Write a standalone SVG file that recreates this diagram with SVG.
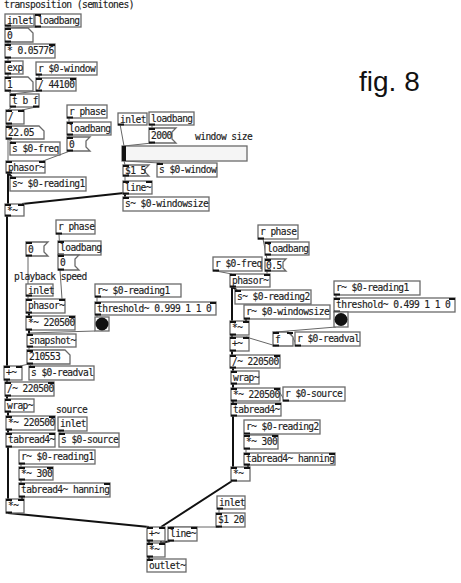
<svg xmlns="http://www.w3.org/2000/svg" width="461" height="583" viewBox="0 0 461 583">
<style>
.b{fill:#fff;stroke:#6a6a6a;stroke-width:1.3}
.t{font:9.6px "DejaVu Sans Mono",monospace;letter-spacing:-.58px;fill:#222;stroke:#222;stroke-width:.15}
.n{fill:none;stroke:#111;stroke-width:2}
.c{fill:none;stroke:#666;stroke-width:1}
.s{fill:none;stroke:#111;stroke-width:2}
</style>
<rect width="461" height="583" fill="#fff"/>
<g id="connectors">
<path class="c" d="M8 26V28M37 27L8 28M8 42V44M8 58V61M8 74V77M39 75V78M8 91L12 94M38 91L12 94M12 107L8 110M36 107L22 110M8 124V126M8 139V161M8 139L12 142M69 118V122M69 135V137M70 151L43 161"/>
<path class="c" d="M120 124L124 146M152 125V128M152 143L124 146M124 161L125 165M125 176V181M124 161L160 163"/>
<path class="c" d="M28 256V299M59 234L60 255M60 270L62 299M97 297V302M97 315V317M95 331L28 333M29 347V350M29 364L20 366M29 364L31 366M60 431V433M21 464V467M21 480V483"/>
<path class="c" d="M263 239L267 259M216 271L232 274M267 271V274M336 327L276 332M276 346L246 337M297 346L290 332M336 295V298M336 312V314M285 401L277 388M246 434V435M246 449V453M219 509V513M219 527H170"/>
<path class="s" d="M8 173L12 177M8 173V204M125 194V197M124 193L22 204M7 216V366M29 313V316M29 330V334M7 380V382M7 396V399M8 412V416M8 430V433M8 447V499M22 497V499M8 513L149 527"/>
<path class="s" d="M232 287L237 290M232 287V321M246 319V321M232 335V337M232 351V355M233 368V371M233 384V388M233 401V403M233 416V467M248 465V467M232 481L161 527M149 541V543M161 541V543M170 541L161 543M149 557V559"/>
</g>
<text id="label-transposition" class="t" x="4" y="8">transposition (semitones)</text>
<text id="label-window-size" class="t" x="195" y="140">window size</text>
<text id="label-playback-speed" class="t" x="14" y="280">playback speed</text>
<text id="label-source" class="t" x="56" y="413">source</text>
<text id="label-fig" x="359" y="91" style="font:28px 'Liberation Sans',Arial,sans-serif;fill:#111">fig. 8</text>

<g id="n1"><rect class="b" x="5" y="14" width="29" height="12"/><text class="t" x="7" y="24">inlet</text><path class="n" d="M5 25.500h6"/></g>
<g id="n2"><rect class="b" x="35" y="14" width="46" height="13"/><text class="t" x="38" y="24">loadbang</text><path class="n" d="M35 15h6M35 26.500h6"/></g>
<g id="n3"><path class="b" d="M5 28H28L33 33V42H5Z"/><text class="t" x="7" y="39">0</text><path class="n" d="M5 29h6M5 41.500h6"/></g>
<g id="n4"><rect class="b" x="5" y="44" width="50" height="14"/><text class="t" x="7" y="54">* 0.05776</text><path class="n" d="M5 45h6M49 45h6M5 57.500h6"/></g>
<g id="n5"><rect class="b" x="5" y="61" width="18" height="13"/><text class="t" x="7" y="71">exp</text><path class="n" d="M5 62h6M5 73.500h6"/></g>
<g id="n6"><rect class="b" x="36" y="62" width="61" height="13"/><text class="t" x="38" y="72">r $0-window</text><path class="n" d="M36 74.500h6"/></g>
<g id="n7"><path class="b" d="M5 77H28L33 82V91H5Z"/><text class="t" x="7" y="88">1</text><path class="n" d="M5 78h6M5 90.500h6"/></g>
<g id="n8"><rect class="b" x="36" y="78" width="40" height="13"/><text class="t" x="38" y="88">/ 44100</text><path class="n" d="M36 79h6M70 79h6M36 90.500h6"/></g>
<g id="n9"><rect class="b" x="10" y="94" width="29" height="13"/><text class="t" x="12" y="104">t b f</text><path class="n" d="M10 95h6M10 106.500h6M33 106.500h6"/></g>
<g id="n10"><rect class="b" x="6" y="110" width="18" height="14"/><text class="t" x="8" y="120">/</text><path class="n" d="M6 111h6M18 111h6M6 123.500h6"/></g>
<g id="n11"><path class="b" d="M6 126H39L44 131V139H6Z"/><text class="t" x="8" y="136">22.05</text><path class="n" d="M6 127h6M6 138.500h6"/></g>
<g id="n12"><rect class="b" x="10" y="142" width="50" height="13"/><text class="t" x="12" y="152">s $0-freq</text><path class="n" d="M10 143h6"/></g>
<g id="n13"><rect class="b" x="67" y="105" width="40" height="13"/><text class="t" x="69" y="115">r phase</text><path class="n" d="M67 117.500h6"/></g>
<g id="n14"><rect class="b" x="67" y="122" width="44" height="13"/><text class="t" x="69" y="132">loadbang</text><path class="n" d="M67 123h6M67 134.500h6"/></g>
<g id="n15"><path class="b" d="M67 137H90L86 141V147L90 151H67Z"/><text class="t" x="69" y="148">0</text><path class="n" d="M67 138h6M67 150.500h6"/></g>
<g id="n16"><rect class="b" x="6" y="161" width="39" height="12"/><text class="t" x="8" y="171">phasor~</text><path class="n" d="M6 162h6M39 162h6M6 172.500h6"/></g>
<g id="n17"><rect class="b" x="10" y="177" width="76" height="14"/><text class="t" x="12" y="187">s~ $0-reading1</text><path class="n" d="M10 178h6"/></g>
<g id="n18"><rect class="b" x="118" y="113" width="29" height="12"/><text class="t" x="120" y="123">inlet</text><path class="n" d="M118 124.500h6"/></g>
<g id="n19"><rect class="b" x="149" y="112" width="45" height="13"/><text class="t" x="151" y="122">loadbang</text><path class="n" d="M149 124.500h6"/></g>
<g id="n20"><path class="b" d="M149 128H176L172 132V139L176 143H149Z"/><text class="t" x="151" y="139">2000</text><path class="n" d="M149 129h6M149 142.500h6"/></g>
<g id="n21"><rect class="b" x="122" y="146" width="125" height="15" style="fill:#f5f5f5"/><rect x="122" y="146" width="4" height="15" fill="#111"/></g>
<g id="n22"><path class="b" d="M123 165H149L145 169V172L149 176H123Z"/><text class="t" x="125" y="174">$1 5</text><path class="n" d="M123 166h6M123 175.500h6"/></g>
<g id="n23"><rect class="b" x="157" y="163" width="60" height="14"/><text class="t" x="159" y="173">s $0-window</text><path class="n" d="M157 164h6"/></g>
<g id="n24"><rect class="b" x="123" y="181" width="29" height="13"/><text class="t" x="125" y="191">line~</text><path class="n" d="M123 182h6M146 182h6M123 193.500h6"/></g>
<g id="n25"><rect class="b" x="123" y="197" width="86" height="14"/><text class="t" x="125" y="207">s~ $0-windowsize</text><path class="n" d="M123 198h6"/></g>
<g id="n26"><rect class="b" x="5" y="204" width="19" height="12"/><text class="t" x="7" y="214">*~</text><path class="n" d="M5 205h6M18 205h6M5 215.500h6"/></g>
<g id="n27"><rect class="b" x="56" y="220" width="39" height="14"/><text class="t" x="58" y="230">r phase</text><path class="n" d="M56 233.500h6"/></g>
<g id="n28"><rect class="b" x="58" y="241" width="43" height="14"/><text class="t" x="60" y="251">loadbang</text><path class="n" d="M58 242h6M58 254.500h6"/></g>
<g id="n29"><path class="b" d="M58 255H79L75 259V266L79 270H58Z"/><text class="t" x="60" y="266">0</text><path class="n" d="M58 256h6M58 269.500h6"/></g>
<g id="n30"><path class="b" d="M26 242H48L44 246V252L48 256H26Z"/><text class="t" x="28" y="253">0</text><path class="n" d="M26 243h6M26 255.500h6"/></g>
<g id="n31"><rect class="b" x="26" y="284" width="27" height="12"/><text class="t" x="28" y="294">inlet</text><path class="n" d="M26 295.500h6"/></g>
<g id="n32"><rect class="b" x="26" y="299" width="39" height="14"/><text class="t" x="28" y="309">phasor~</text><path class="n" d="M26 300h6M59 300h6M26 312.500h6"/></g>
<g id="n33"><rect class="b" x="26" y="316" width="49" height="14"/><text class="t" x="28" y="326">*~ 220500</text><path class="n" d="M26 317h6M69 317h6M26 329.500h6"/></g>
<g id="n34"><rect class="b" x="95" y="284" width="86" height="13"/><text class="t" x="97" y="294">r~ $0-reading1</text><path class="n" d="M95 296.500h6"/></g>
<g id="n35"><rect class="b" x="95" y="302" width="121" height="13"/><text class="t" x="97" y="312">threshold~ 0.999 1 1 0</text><path class="n" d="M95 303h6M210 303h6M95 314.500h6"/></g>
<g id="n36"><rect class="b" x="95" y="317" width="14" height="14"/><circle cx="102" cy="324" r="6.500" fill="#111"/></g>
<g id="n37"><rect class="b" x="27" y="334" width="49" height="13"/><text class="t" x="29" y="344">snapshot~</text><path class="n" d="M27 335h6M27 346.500h6"/></g>
<g id="n38"><path class="b" d="M27 350H65L70 355V364H27Z"/><text class="t" x="29" y="360">210553</text><path class="n" d="M27 351h6M27 363.500h6"/></g>
<g id="n39"><rect class="b" x="4" y="366" width="18" height="14"/><text class="t" x="6" y="376">+~</text><path class="n" d="M4 367h6M16 367h6M4 379.500h6"/></g>
<g id="n40"><rect class="b" x="29" y="366" width="65" height="14"/><text class="t" x="31" y="376">s $0-readval</text><path class="n" d="M29 367h6"/></g>
<g id="n41"><rect class="b" x="5" y="382" width="49" height="14"/><text class="t" x="7" y="392">/~ 220500</text><path class="n" d="M5 383h6M48 383h6M5 395.500h6"/></g>
<g id="n42"><rect class="b" x="5" y="399" width="29" height="13"/><text class="t" x="7" y="409">wrap~</text><path class="n" d="M5 400h6M5 411.500h6"/></g>
<g id="n43"><rect class="b" x="6" y="416" width="49" height="14"/><text class="t" x="8" y="426">*~ 220500</text><path class="n" d="M6 417h6M49 417h6M6 429.500h6"/></g>
<g id="n44"><rect class="b" x="58" y="417" width="29" height="14"/><text class="t" x="60" y="427">inlet</text><path class="n" d="M58 430.500h6"/></g>
<g id="n45"><rect class="b" x="6" y="433" width="49" height="14"/><text class="t" x="8" y="443">tabread4~</text><path class="n" d="M6 434h6M49 434h6M6 446.500h6"/></g>
<g id="n46"><rect class="b" x="59" y="433" width="60" height="14"/><text class="t" x="61" y="443">s $0-source</text><path class="n" d="M59 434h6"/></g>
<g id="n47"><rect class="b" x="19" y="450" width="76" height="14"/><text class="t" x="21" y="460">r~ $0-reading1</text><path class="n" d="M19 463.500h6"/></g>
<g id="n48"><rect class="b" x="19" y="467" width="34" height="13"/><text class="t" x="21" y="477">*~ 300</text><path class="n" d="M19 468h6M47 468h6M19 479.500h6"/></g>
<g id="n49"><rect class="b" x="19" y="483" width="91" height="14"/><text class="t" x="21" y="493">tabread4~ hanning</text><path class="n" d="M19 484h6M104 484h6M19 496.500h6"/></g>
<g id="n50"><rect class="b" x="6" y="499" width="18" height="14"/><text class="t" x="8" y="509">*~</text><path class="n" d="M6 500h6M18 500h6M6 512.500h6"/></g>
<g id="n51"><rect class="b" x="258" y="225" width="40" height="14"/><text class="t" x="260" y="235">r phase</text><path class="n" d="M258 238.500h6"/></g>
<g id="n52"><rect class="b" x="265" y="242" width="44" height="13"/><text class="t" x="267" y="252">loadbang</text><path class="n" d="M265 243h6M265 254.500h6"/></g>
<g id="n53"><rect class="b" x="213" y="257" width="49" height="14"/><text class="t" x="215" y="267">r $0-freq</text><path class="n" d="M213 270.500h6"/></g>
<g id="n54"><path class="b" d="M265 259H286L283 262V268L286 271H265Z"/><text class="t" x="266" y="269">0.5</text><path class="n" d="M265 260h6M265 270.500h6"/></g>
<g id="n55"><rect class="b" x="230" y="274" width="40" height="13"/><text class="t" x="232" y="284">phasor~</text><path class="n" d="M230 275h6M264 275h6M230 286.500h6"/></g>
<g id="n56"><rect class="b" x="235" y="290" width="76" height="14"/><text class="t" x="237" y="300">s~ $0-reading2</text><path class="n" d="M235 291h6"/></g>
<g id="n57"><rect class="b" x="244" y="305" width="86" height="14"/><text class="t" x="246" y="315">r~ $0-windowsize</text><path class="n" d="M244 318.500h6"/></g>
<g id="n58"><rect class="b" x="230" y="321" width="19" height="14"/><text class="t" x="232" y="331">*~</text><path class="n" d="M230 322h6M243 322h6M230 334.500h6"/></g>
<g id="n59"><rect class="b" x="230" y="337" width="19" height="14"/><text class="t" x="232" y="347">+~</text><path class="n" d="M230 338h6M243 338h6M230 350.500h6"/></g>
<g id="n60"><path class="b" d="M273 332H288L293 337V346H273Z"/><text class="t" x="275" y="343">f</text><path class="n" d="M273 333h6M287 333h6M273 345.500h6"/></g>
<g id="n61"><rect class="b" x="295" y="332" width="65" height="14"/><text class="t" x="297" y="342">r $0-readval</text><path class="n" d="M295 345.500h6"/></g>
<g id="n62"><rect class="b" x="334" y="281" width="86" height="14"/><text class="t" x="336" y="291">r~ $0-reading1</text><path class="n" d="M334 294.500h6"/></g>
<g id="n63"><rect class="b" x="334" y="298" width="121" height="14"/><text class="t" x="336" y="308">threshold~ 0.499 1 1 0</text><path class="n" d="M334 299h6M449 299h6M334 311.500h6"/></g>
<g id="n64"><rect class="b" x="334" y="312" width="14" height="15"/><circle cx="341" cy="319.500" r="6.500" fill="#111"/></g>
<g id="n65"><rect class="b" x="230" y="355" width="50" height="13"/><text class="t" x="232" y="365">/~ 220500</text><path class="n" d="M230 356h6M274 356h6M230 367.500h6"/></g>
<g id="n66"><rect class="b" x="231" y="371" width="28" height="13"/><text class="t" x="233" y="381">wrap~</text><path class="n" d="M231 372h6M231 383.500h6"/></g>
<g id="n67"><rect class="b" x="231" y="388" width="49" height="13"/><text class="t" x="233" y="398">*~ 220500</text><path class="n" d="M231 389h6M274 389h6M231 400.500h6"/></g>
<g id="n68"><rect class="b" x="283" y="387" width="62" height="14"/><text class="t" x="285" y="397">r $0-source</text><path class="n" d="M283 400.500h6"/></g>
<g id="n69"><rect class="b" x="231" y="403" width="50" height="13"/><text class="t" x="233" y="413">tabread4~</text><path class="n" d="M231 404h6M275 404h6M231 415.500h6"/></g>
<g id="n70"><rect class="b" x="244" y="420" width="76" height="14"/><text class="t" x="246" y="430">r~ $0-reading2</text><path class="n" d="M244 433.500h6"/></g>
<g id="n71"><rect class="b" x="244" y="435" width="34" height="14"/><text class="t" x="246" y="445">*~ 300</text><path class="n" d="M244 436h6M272 436h6M244 448.500h6"/></g>
<g id="n72"><rect class="b" x="244" y="453" width="91" height="12"/><text class="t" x="246" y="462">tabread4~ hanning</text><path class="n" d="M244 454h6M329 454h6M244 464.500h6"/></g>
<g id="n73"><rect class="b" x="231" y="467" width="19" height="14"/><text class="t" x="233" y="477">*~</text><path class="n" d="M231 468h6M244 468h6M231 480.500h6"/></g>
<g id="n74"><rect class="b" x="217" y="496" width="28" height="13"/><text class="t" x="219" y="506">inlet</text><path class="n" d="M217 508.500h6"/></g>
<g id="n75"><rect class="b" x="216" y="513" width="29" height="14"/><text class="t" x="218" y="523">$1 20</text><path class="n" d="M216 514h6M216 526.500h6"/></g>
<g id="n76"><rect class="b" x="147" y="527" width="18" height="14"/><text class="t" x="149" y="537">+~</text><path class="n" d="M147 528h6M159 528h6M147 540.500h6"/></g>
<g id="n77"><rect class="b" x="168" y="527" width="29" height="14"/><text class="t" x="170" y="537">line~</text><path class="n" d="M168 528h6M191 528h6M168 540.500h6"/></g>
<g id="n78"><rect class="b" x="147" y="543" width="18" height="14"/><text class="t" x="149" y="553">*~</text><path class="n" d="M147 544h6M159 544h6M147 556.500h6"/></g>
<g id="n79"><rect class="b" x="147" y="559" width="39" height="13"/><text class="t" x="149" y="569">outlet~</text><path class="n" d="M147 560h6"/></g>
</svg>
